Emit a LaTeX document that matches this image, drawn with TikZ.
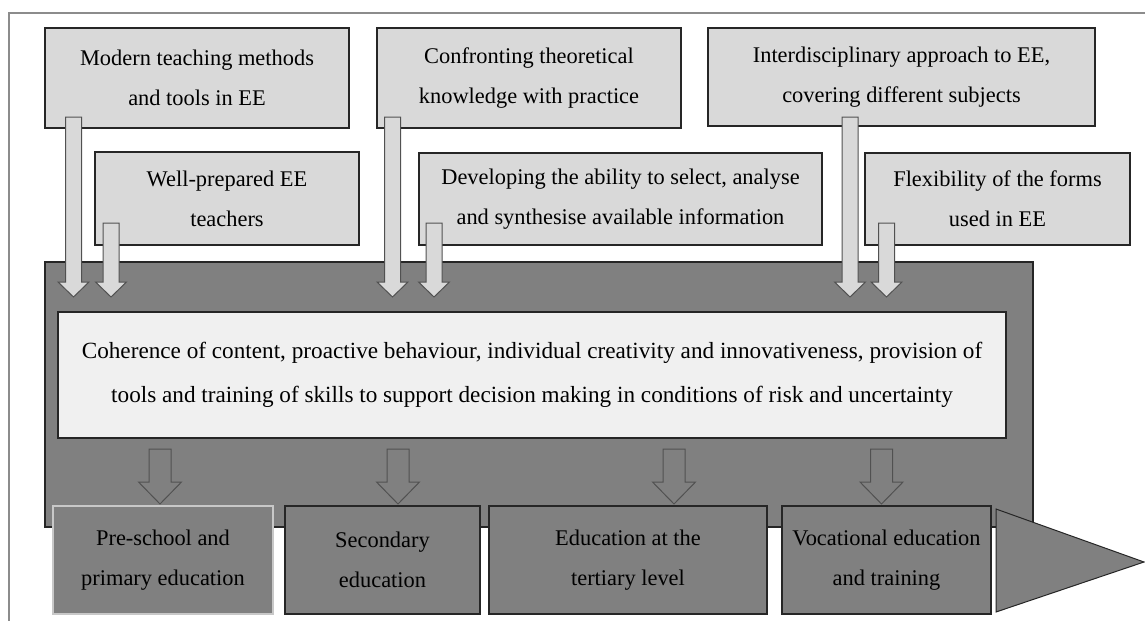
\documentclass[tikz,border=0pt]{standalone}
\usepackage{fontspec}
\setmainfont{Liberation Serif}
\usepackage{tikz}
\usetikzlibrary{positioning, calc}
\definecolor{BoxLight}{HTML}{D9D9D9}
\definecolor{BoxPale}{HTML}{F0F0F0}
\definecolor{BandGray}{HTML}{808080}
\definecolor{EdgeDark}{HTML}{262626}
\definecolor{FrameGray}{HTML}{8C8C8C}
\definecolor{EdgeLight}{HTML}{C8C8C8}
\tikzset{
  % Box styles
  factorbox/.style={rectangle, draw=EdgeDark, fill=BoxLight, line width=0.6pt, inner sep=0pt, align=center, font=\fontsize{11.2}{20}\selectfont},
  corebox/.style={rectangle, draw=EdgeDark, fill=BoxPale, line width=0.6pt, inner sep=0pt, align=center, font=\fontsize{11.6}{22}\selectfont},
  levelbox/.style={rectangle, draw=EdgeDark, fill=BandGray, line width=0.6pt, inner sep=0pt, minimum height=54pt, align=center, font=\fontsize{11.2}{20}\selectfont},
  % Arrow styles
  feedarrow/.style={draw=EdgeDark!80, fill=BoxLight, line width=0.5pt, line join=miter},
  outarrow/.style={draw=EdgeDark!80, fill=BandGray, line width=0.5pt, line join=miter}
}

\begin{document}
\begin{tikzpicture}[x=0.5pt, y=-0.5pt]
  \useasboundingbox (0,0) rectangle (1145,621);

  % Frame
  \draw[FrameGray, line width=0.6pt] (1145,13) -- (9,13) -- (9,621);

  % Factor boxes
  \node[factorbox, minimum width=152pt, minimum height=50pt] (methods) at (197,78) {Modern teaching methods\\and tools in EE};
  \node[factorbox, minimum width=152pt, minimum height=50pt] (practice) at (529,78) {Confronting theoretical\\knowledge with practice};
  \node[factorbox, minimum width=193.5pt, minimum height=49pt] (interdisc) at (901.5,77) {Interdisciplinary approach to EE,\\covering different subjects};
  \node[factorbox, minimum width=132pt, minimum height=46.5pt] (teachers) at (227,198.5) {Well-prepared EE\\teachers};
  \node[factorbox, minimum width=201.5pt, minimum height=46pt] (ability) at (620.5,199) {Developing the ability to select, analyse\\and synthesise available information};
  \node[factorbox, minimum width=132.5pt, minimum height=46pt] (forms) at (997.5,199) {Flexibility of the forms\\used in EE};

  % Band
  \fill[BandGray, draw=EdgeDark, line width=0.6pt] (45,262) rectangle (1033,527);
  \node[corebox, minimum width=474pt, minimum height=63pt] (core) at (532,375) {Coherence of content, proactive behaviour, individual creativity and innovativeness, provision of\\tools and training of skills to support decision making in conditions of risk and uncertainty};

  % Arrows into the band
  \foreach \x/\y in {73.5/117, 111/223, 392.5/117, 434/223, 850/117, 886.5/223} {
    \draw[feedarrow] (\x-8,\y) -- (\x+8,\y) -- (\x+8,282) -- (\x+15.5,282) -- (\x,297) -- (\x-15.5,282) -- (\x-8,282) -- cycle;
  }

  % Arrows to the levels
  \foreach \x in {160, 398, 674, 881.5} {
    \draw[outarrow] (\x-11,449) -- (\x+11,449) -- (\x+11,482) -- (\x+21.5,482) -- (\x,504) -- (\x-21.5,482) -- (\x-11,482) -- cycle;
  }

  % Education levels
  \node[levelbox, draw=EdgeLight, minimum width=110pt] (preschool) at (163,560) {Pre-school and\\primary education};
  \node[levelbox, minimum width=97.5pt] (secondary) at (382.5,560) {Secondary\\education};
  \node[levelbox, minimum width=139pt] (tertiary) at (628,560) {Education at the\\tertiary level};
  \node[levelbox, minimum width=104.5pt] (vocational) at (886.5,560) {Vocational education\\and training};
  \draw[outarrow, draw=EdgeDark] (996,509) -- (1144,562) -- (996,612) -- cycle;
\end{tikzpicture}
\end{document}
